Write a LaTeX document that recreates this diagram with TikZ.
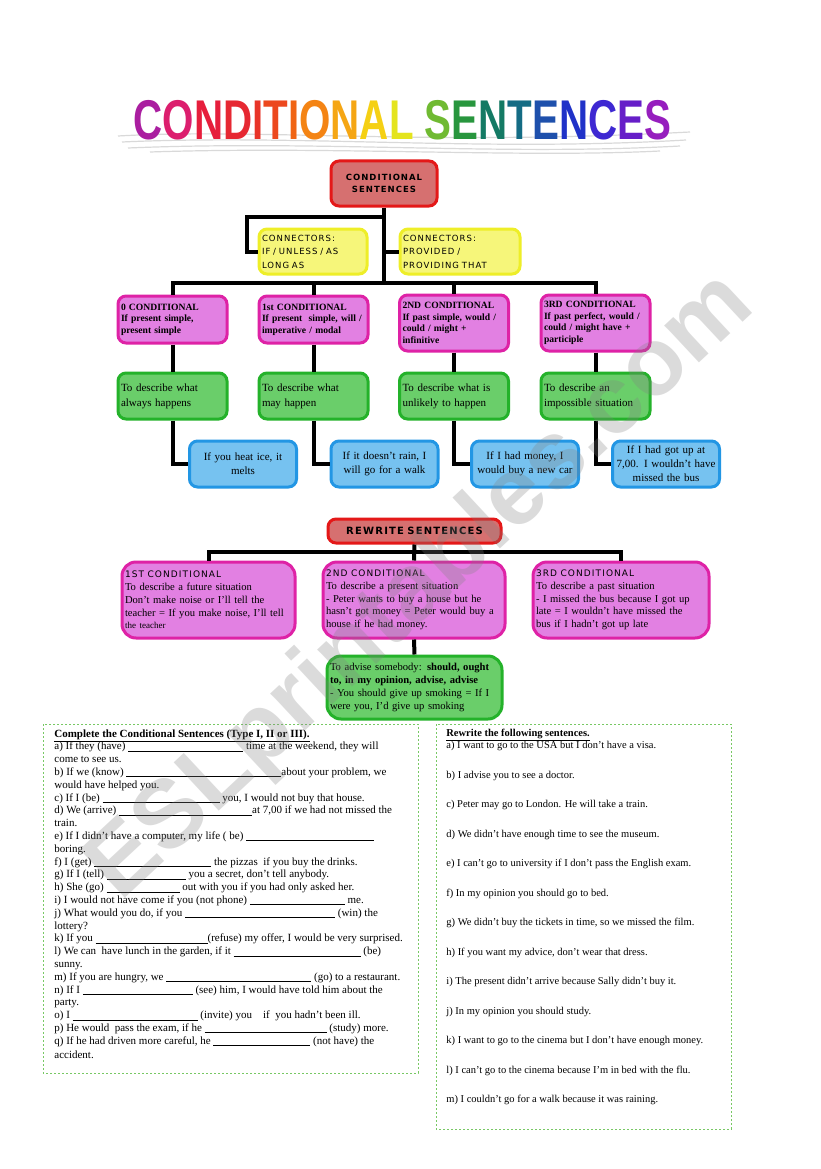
\documentclass[tikz,border=0pt]{standalone}
\usepackage{fontspec}
\usepackage{graphicx}
\setmainfont{Liberation Serif}
\newfontfamily\titlefont{Liberation Sans}
\newfontfamily\kfont[LetterSpace=12]{DejaVu Sans}
\usetikzlibrary{positioning,calc}

\definecolor{rootred}{RGB}{228,24,24}
\definecolor{rootfill}{RGB}{214,112,112}
\definecolor{yelline}{RGB}{238,238,40}
\definecolor{yelfill}{RGB}{246,246,122}
\definecolor{magline}{RGB}{222,34,166}
\definecolor{magfill}{RGB}{226,128,226}
\definecolor{grnline}{RGB}{36,178,42}
\definecolor{grnfill}{RGB}{106,206,106}
\definecolor{bluline}{RGB}{34,150,228}
\definecolor{blufill}{RGB}{118,194,240}
\definecolor{dotgreen}{RGB}{120,200,100}

\newcommand{\rbw}[2]{\textcolor[RGB]{#1}{#2}}
\newcommand{\gap}[1]{\rule[-1.5pt]{#1pt}{0.6pt}}

\tikzset{
  every picture/.style={line width=0.75pt},
  card/.style={rounded corners=8pt, line width=3pt, inner sep=3pt, align=left},
  rootbox/.style={card, draw=rootred, fill=rootfill, align=center, text width=100pt,
    minimum height=45pt, font=\kfont\bfseries\fontsize{8.5}{12}\selectfont},
  yelbox/.style={card, draw=yelline, fill=yelfill, minimum height=45pt,
    font=\kfont\fontsize{8.5}{13.5}\selectfont},
  magbox/.style={card, draw=magline, fill=magfill, text width=103pt, minimum height=47pt,
    font=\bfseries\fontsize{9.6}{11.5}\selectfont},
  grnbox/.style={card, draw=grnline, fill=grnfill, text width=103pt, minimum height=46pt,
    font=\fontsize{11}{15}\selectfont},
  blubox/.style={card, draw=bluline, fill=blufill, align=center, text width=101pt,
    minimum height=46pt, font=\fontsize{11}{14}\selectfont},
  bigcard/.style={card, rounded corners=14pt, font=\fontsize{10.6}{12.7}\selectfont},
  conn/.style={line width=4pt},
  dotframe/.style={draw=dotgreen, line width=1pt, dash pattern=on 2pt off 2pt},
  streak/.style={draw=gray!30, line width=1.2pt}
}

\begin{document}
\begin{tikzpicture}[x=1pt, y=-1pt]
    \useasboundingbox (0,0) rectangle (821,1169);
    \fill[white] (0,0) rectangle (821,1169);

    % title with its grey streaks
    \draw[streak] (118,136) .. controls (260,128) and (420,146) .. (690,132);
    \draw[streak] (122,142) .. controls (300,134) and (480,152) .. (686,140);
    \draw[streak] (128,148) .. controls (320,140) and (500,156) .. (680,146);
    \draw[streak] (150,152) .. controls (330,146) and (520,158) .. (660,151);
    \node[font=\titlefont\bfseries\fontsize{56}{56}\selectfont] (title) at (402.5,120)
        {\scalebox{0.72}[1]{\rbw{170,30,160}{C}\rbw{220,30,110}{O}\rbw{230,30,60}{N}\rbw{230,40,50}{D}\rbw{232,52,40}{I}\rbw{236,72,30}{T}\rbw{240,100,20}{I}\rbw{244,132,20}{O}\rbw{245,166,20}{N}\rbw{245,208,20}{A}\rbw{228,228,30}{L}
        \rbw{112,186,50}{S}\rbw{40,150,62}{E}\rbw{20,122,100}{N}\rbw{20,108,132}{T}\rbw{30,80,172}{E}\rbw{32,50,200}{N}\rbw{62,40,210}{C}\rbw{102,30,200}{E}\rbw{150,30,190}{S}}};

    % tree of conditionals
    \node[rootbox] (root) at (384,183.5) {CONDITIONAL\\SENTENCES};
    \node[yelbox, text width=102pt] (y1) at (313,251.5) {CONNECTORS:\\IF / UNLESS / AS\\LONG AS};
    \node[yelbox, text width=114pt] (y2) at (460,251.5) {CONNECTORS:\\PROVIDED /\\PROVIDING THAT};

    \node[magbox] (c0) at (172.5,319.5) {0 CONDITIONAL\\If present simple,\\present simple};
    \node[magbox] (c1) at (313.5,319.5) {1st CONDITIONAL\\If present\ \ simple, will /\\imperative / modal};
    \node[magbox, minimum height=56pt] (c2) at (454,323) {2ND CONDITIONAL\\If past simple, would /\\could / might +\\infinitive};
    \node[magbox, minimum height=56pt] (c3) at (595.5,323) {3RD CONDITIONAL\\If past perfect, would /\\could / might have +\\participle};

    \node[grnbox] (g0) at (172.5,396) {To describe what\\always happens};
    \node[grnbox] (g1) at (313.5,396) {To describe what\\may happen};
    \node[grnbox] (g2) at (454,396) {To describe what is\\unlikely to happen};
    \node[grnbox] (g3) at (595.5,396) {To describe an\\impossible situation};

    \node[blubox] (b0) at (243,464) {If you heat ice, it\\melts};
    \node[blubox] (b1) at (384.5,464) {If it doesn't rain, I\\will go for a walk};
    \node[blubox] (b2) at (525,464) {If I had money, I\\would buy a new car};
    \node[blubox] (b3) at (666,464) {If I had got up at\\7,00. I wouldn't have\\missed the bus};

    \coordinate (bus) at (384,283);
    \coordinate (knee) at (247,217);
    \draw[conn] (root.south) -- (bus);
    \draw[conn] (knee -| root) -- (knee) |- (y1.west);
    \draw[conn] (y2.west) -- (y2.west -| root);
    \draw[conn] (c0.north) |- (bus) -| (c3.north);
    \draw[conn] (c1.north) -- (c1.north |- bus);
    \draw[conn] (c2.north) -- (c2.north |- bus);
    \foreach \i in {0,1,2,3} {
        \draw[conn] (c\i.south) -- (g\i.north);
        \draw[conn] (g\i.south) |- (b\i.west);
    }

    % rewrite tree
    \node[card, draw=rootred, fill=rootfill, align=center, text width=169pt, minimum height=24pt,
        inner sep=2pt, font=\kfont\bfseries\fontsize{10}{12}\selectfont] (rw) at (414.5,531) {REWRITE SENTENCES};
    \node[bigcard, draw=magline, fill=magfill, text width=167pt, minimum height=76pt] (r1) at (208.5,600)
        {{\kfont\fontsize{9}{12.7}\selectfont 1ST CONDITIONAL}\\To describe a future situation\\Don't make noise or I'll tell the\\teacher = If you make noise, I'll tell\\{\fontsize{9}{12.7}\selectfont the teacher}};
    \node[bigcard, draw=magline, fill=magfill, text width=176pt, minimum height=76pt] (r2) at (414,600)
        {{\kfont\fontsize{9}{12.7}\selectfont 2ND CONDITIONAL}\\To describe a present situation\\- Peter wants to buy a house but he\\hasn't got money = Peter would buy a\\house if he had money.};
    \node[bigcard, draw=magline, fill=magfill, text width=170pt, minimum height=76pt] (r3) at (621,600)
        {{\kfont\fontsize{9}{12.7}\selectfont 3RD CONDITIONAL}\\To describe a past situation\\- I missed the bus because I got up\\late = I wouldn't have missed the\\bus if I hadn't got up late};
    \node[bigcard, draw=grnline, fill=grnfill, text width=169pt, minimum height=63pt] (r4) at (414.5,687.5)
        {To advise somebody: \textbf{should, ought}\\\textbf{to, in my opinion, advise, advise}\\- You should give up smoking = If I\\were you, I'd give up smoking};

    \coordinate (rbus) at (414,552);
    \draw[conn] (rw.south) -- (r2.north);
    \draw[conn] (r1.north) |- (rbus) -| (r3.north);
    \draw[conn] (r2.south) -- (r4.north);

    % exercises
    \draw[dotframe] (43,724) rectangle (418,1073);
    \draw[dotframe] (436,724) rectangle (731,1129);

    \node[anchor=north west, inner sep=0pt, align=left, font=\fontsize{11}{12.8}\selectfont] (task) at (54,729)
        {\textbf{\underline{Complete the Conditional Sentences (Type I, II or III).}}\\
        a) If they (have) \gap{115} time at the weekend, they will\\
        come to see us.\\
        b) If we (know) \gap{155}about your problem, we\\
        would have helped you.\\
        c) If I (be) \gap{117} you, I would not buy that house.\\
        d) We (arrive) \gap{133}at 7,00 if we had not missed the\\
        train.\\
        e) If I didn't have a computer, my life ( be) \gap{128}\\
        boring.\\
        f) I (get) \gap{117} the pizzas\ \ if you buy the drinks.\\
        g) If I (tell) \gap{79} you a secret, don't tell anybody.\\
        h) She (go) \gap{73} out with you if you had only asked her.\\
        i) I would not have come if you (not phone) \gap{95} me.\\
        j) What would you do, if you \gap{150} (win) the\\
        lottery?\\
        k) If you \gap{112}(refuse) my offer, I would be very surprised.\\
        l) We can\ \ have lunch in the garden, if it \gap{127} (be)\\
        sunny.\\
        m) If you are hungry, we \gap{145} (go) to a restaurant.\\
        n) If I \gap{110} (see) him, I would have told him about the\\
        party.\\
        o) I \gap{125} (invite) you\quad if\ \ you hadn't been ill.\\
        p) He would\ \ pass the exam, if he \gap{122} (study) more.\\
        q) If he had driven more careful, he \gap{97} (not have) the\\[1.5pt]
        accident.};

    \node[anchor=north west, inner sep=0pt, align=left, font=\fontsize{10.5}{12}\selectfont] (rewrite) at (446,729)
        {\textbf{\underline{Rewrite the following sentences.}}\\
        a) I want to go to the USA but I don't have a visa.\\[17.5pt]
        b) I advise you to see a doctor.\\[17.5pt]
        c) Peter may go to London. He will take a train.\\[17.5pt]
        d) We didn't have enough time to see the museum.\\[17.5pt]
        e) I can't go to university if I don't pass the English exam.\\[17.5pt]
        f) In my opinion you should go to bed.\\[17.5pt]
        g) We didn't buy the tickets in time, so we missed the film.\\[17.5pt]
        h) If you want my advice, don't wear that dress.\\[17.5pt]
        i) The present didn't arrive because Sally didn't buy it.\\[17.5pt]
        j) In my opinion you should study.\\[17.5pt]
        k) I want to go to the cinema but I don't have enough money.\\[17.5pt]
        l) I can't go to the cinema because I'm in bed with the flu.\\[17.5pt]
        m) I couldn't go for a walk because it was raining.};

    % watermark
    \node[rotate=43, text=gray, opacity=0.28, font=\titlefont\bfseries\fontsize{96}{96}\selectfont] (mark) at (422,588)
        {ESLprintables.com};
\end{tikzpicture}
\end{document}
